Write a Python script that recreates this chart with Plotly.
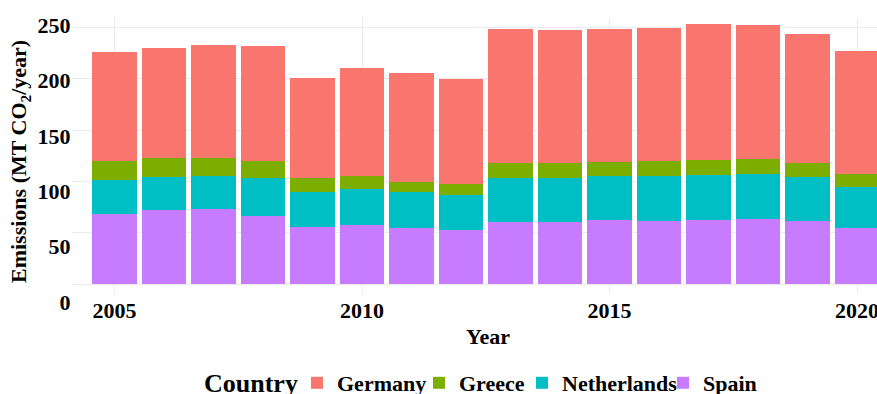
import plotly.graph_objects as go

years = list(range(2005, 2021))
spain = [68.1, 72.3, 73.0, 66.8, 55.8, 57.4, 55.1, 53.2, 60.3, 60.3, 62.3, 61.6, 62.3, 63.9, 61.9, 54.8]
netherlands = [33.4, 31.8, 32.1, 36.6, 34.3, 35.3, 34.7, 33.7, 43.5, 43.1, 42.8, 43.5, 43.7, 43.4, 42.5, 39.9]
greece = [18.5, 18.8, 18.1, 16.6, 13.3, 13.0, 9.4, 10.7, 14.2, 15.0, 14.2, 15.2, 15.3, 14.6, 14.0, 13.0]
germany = [105.7, 107.0, 109.3, 112.2, 97.3, 104.4, 106.1, 102.5, 130.1, 129.3, 129.4, 129.1, 131.6, 130.0, 125.4, 119.0]
x_ticks = [2005, 2010, 2015, 2020]
y_ticks = [0, 50, 100, 150, 200, 250]

W, H = 877, 394
FONT = "Liberation Serif"

# name, values, colour, legend id, legend text start (px)
series = [("Spain", spain, "#C77CFF", "legend4", 703),
          ("Netherlands", netherlands, "#00BFC4", "legend3", 562),
          ("Greece", greece, "#7CAE00", "legend2", 459),
          ("Germany", germany, "#F8766D", "legend", 337)]

fig = go.Figure()
for name, vals, col, lg, _ in series:
    fig.add_trace(go.Bar(x=years, y=vals, name=name, legend=lg,
                         marker=dict(color=col, line=dict(width=0)), width=0.9))
fig.add_trace(go.Scatter(x=[None], y=[None], xaxis="x2", yaxis="y2", showlegend=False,
                         hoverinfo="skip", mode="markers"))

def fy(px):
    return 1 - px / H

x_dom = [72 / W, 1.0]
tickfont = dict(family=FONT, size=22, color="black", weight="bold")
legfont = dict(family=FONT, size=22, color="black", weight="bold")

legends = {}
for name, vals, col, lg, tx in series:
    legends[lg] = dict(orientation="h", xref="container", yref="container",
                       x=(tx - 40) / W, xanchor="left", y=fy(383), yanchor="middle",
                       font=legfont, bgcolor="rgba(0,0,0,0)", borderwidth=0)

fig.update_layout(
    width=W, height=H, margin=dict(l=0, r=0, t=0, b=0, autoexpand=False),
    paper_bgcolor="white", plot_bgcolor="rgba(0,0,0,0)",
    barmode="stack", bargap=0, showlegend=True,
    xaxis=dict(domain=x_dom, range=[2004.141, 2020.404], tickvals=x_ticks, showgrid=True,
               gridcolor="#ebebeb", gridwidth=1, zeroline=False, showline=False,
               anchor="free", position=fy(290),
               ticks="outside", ticklen=1, tickcolor="rgba(0,0,0,0)", tickfont=tickfont,
               automargin=False, ticklabeloverflow="allow"),
    yaxis=dict(domain=[fy(293), fy(18)], range=[-8.46, 259.05], tickvals=y_ticks,
               showticklabels=False, showgrid=True, gridcolor="#ebebeb", gridwidth=1,
               zeroline=False, showline=False, automargin=False),
    xaxis2=dict(domain=[77 / W, 1.0], range=[0, 1], visible=False, anchor="y2", automargin=False),
    yaxis2=dict(domain=[fy(310), fy(18)], range=[-7.22, 256.32], tickvals=y_ticks,
                showgrid=False, zeroline=False, showline=False, anchor="x2",
                ticks="outside", ticklen=1, tickcolor="rgba(0,0,0,0)", tickfont=tickfont,
                automargin=False),
    annotations=[
        dict(text="Emissions (MT CO<sub>2</sub>/year)", xref="paper", yref="paper",
             x=20 / W, y=fy(162), textangle=-90, showarrow=False, xanchor="center", yanchor="middle",
             font=dict(family=FONT, size=22, color="black", weight="bold")),
        dict(text="Year", xref="paper", yref="paper", x=488 / W, y=fy(336), showarrow=False,
             xanchor="center", yanchor="middle",
             font=dict(family=FONT, size=22, color="black", weight="bold")),
        dict(text="Country", xref="paper", yref="paper", x=202 / W, y=fy(383), showarrow=False,
             xanchor="left", yanchor="middle",
             font=dict(family=FONT, size=26, color="black", weight="bold")),
    ],
)
fig.update_layout(**legends)

fig.write_html("out.html")
